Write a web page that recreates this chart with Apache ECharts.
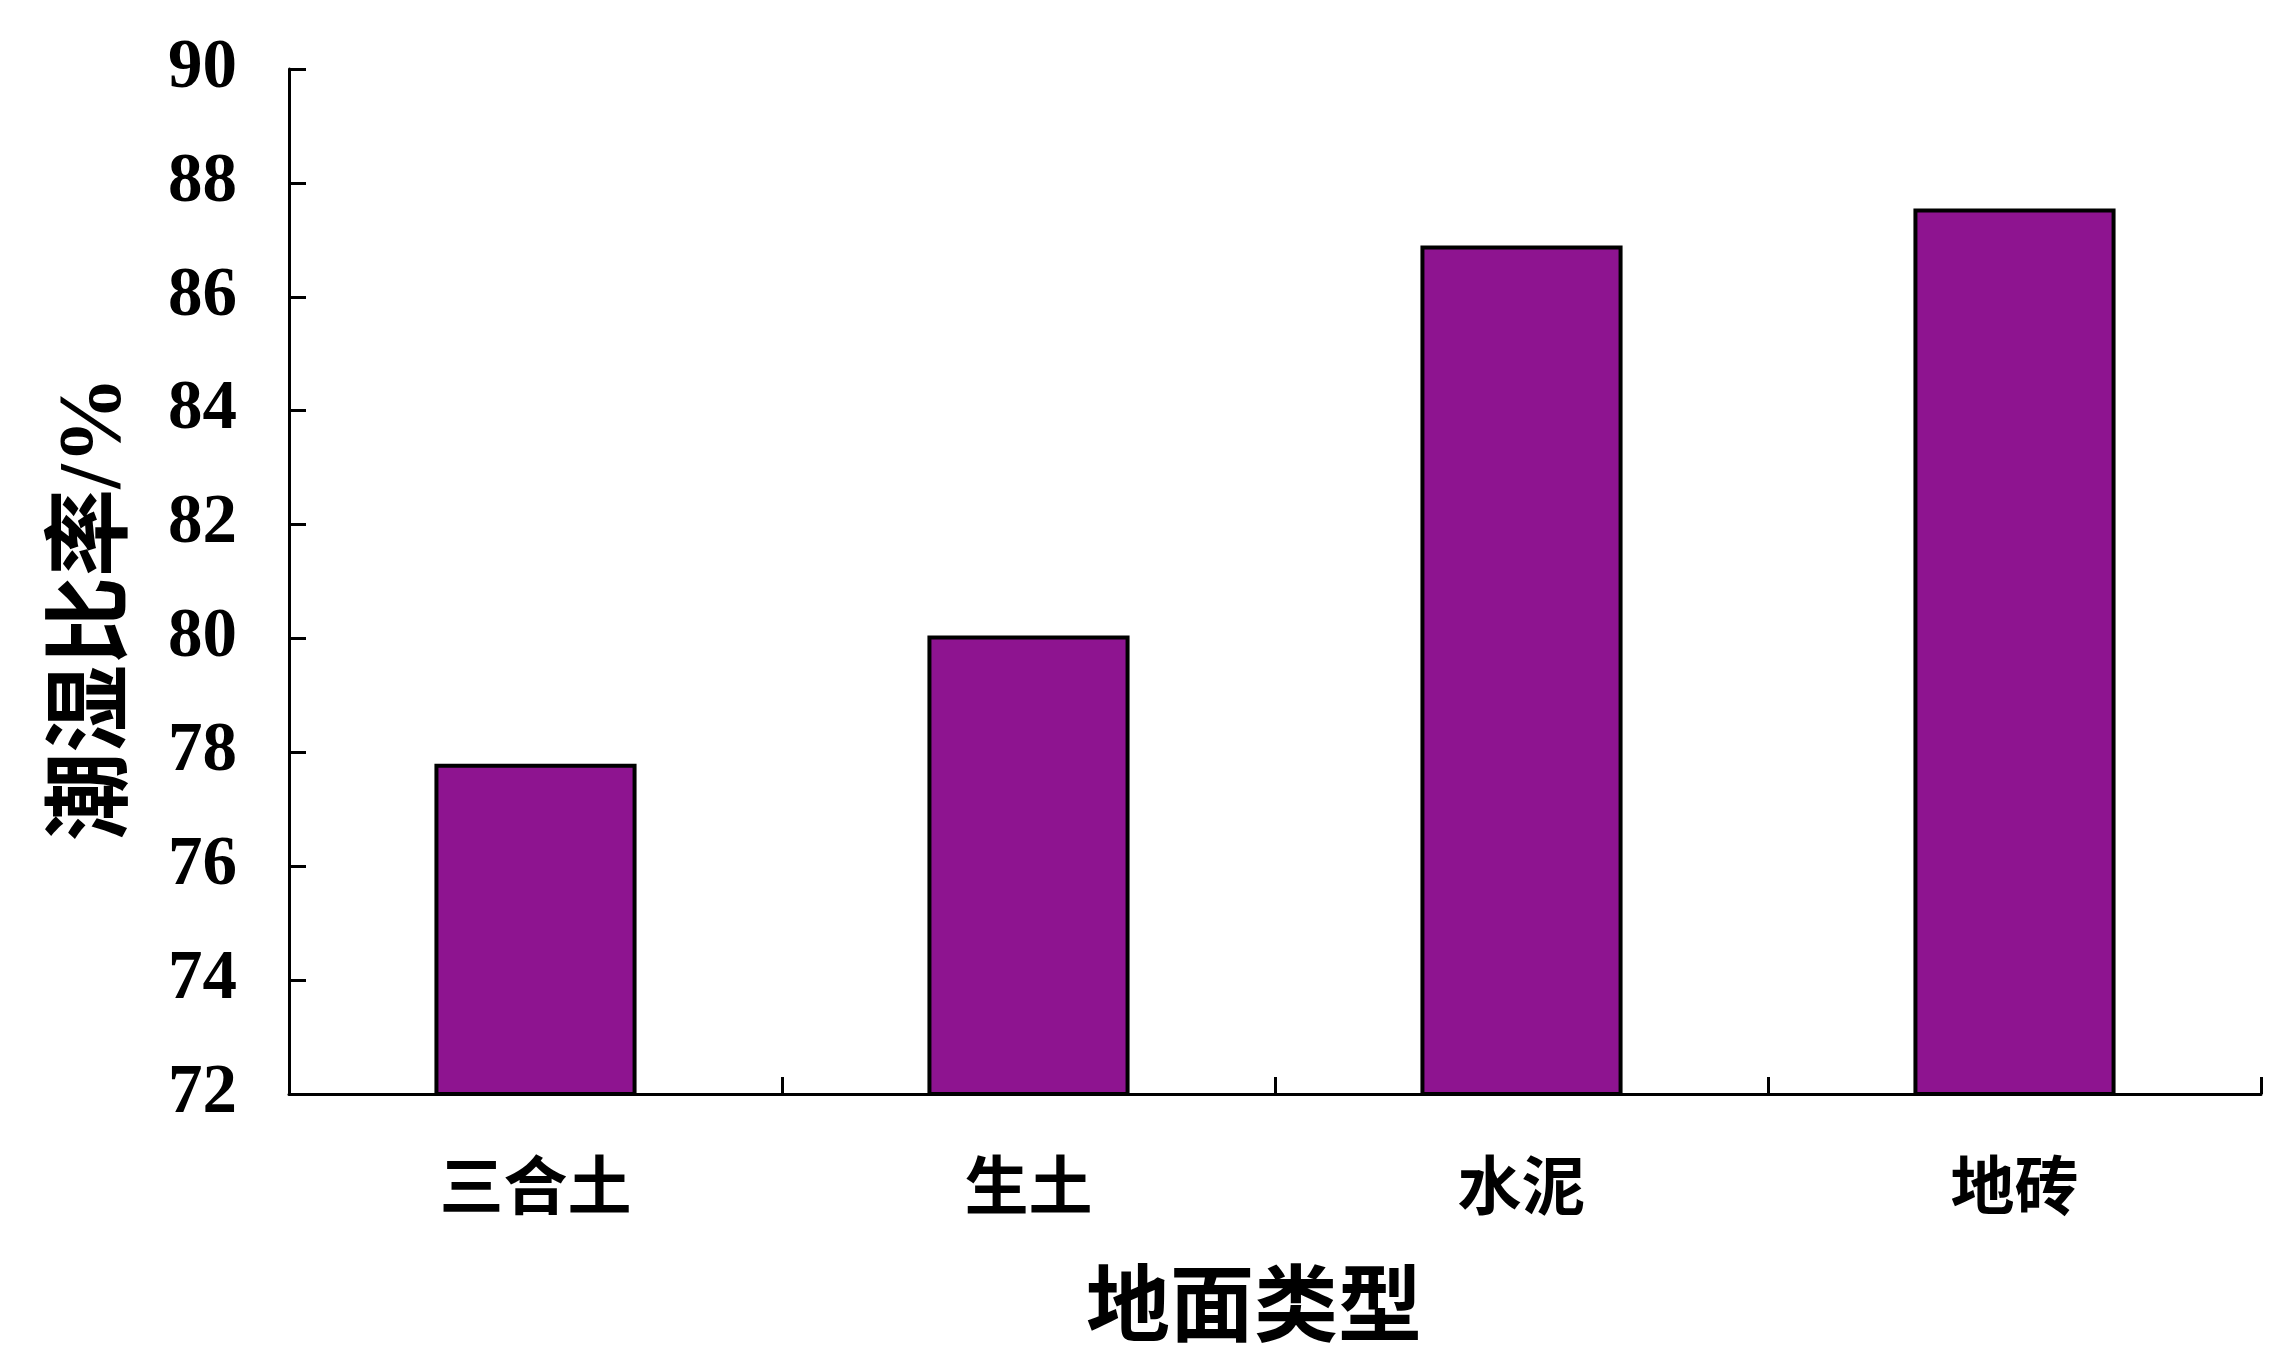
<!DOCTYPE html>
<html>
<head>
<meta charset="utf-8">
<script src="https://cdn.jsdelivr.net/npm/echarts@6/dist/echarts.min.js"></script>
<style>html,body{margin:0;padding:0;background:#fff}#c{width:2292px;height:1360px}</style>
</head>
<body>
<div id="c"></div>
<script>
const categories = ['三合土', '生土', '水泥', '地砖'];
const values = [77.8, 80.05, 86.9, 87.55];
const yMin = 72, yMax = 90, yStep = 2;
const xName = '地面类型';
const yName = '潮湿比率/%';

const chart = echarts.init(document.getElementById('c'));
const fam = '"Liberation Serif", "Noto Sans CJK SC", serif';
chart.setOption({
  animation: false,
  backgroundColor: '#fff',
  grid: { left: 289, right: 31, top: 69, bottom: 266, containLabel: false },
  xAxis: {
    type: 'category',
    data: categories,
    name: xName,
    nameLocation: 'middle',
    nameGap: 177,
    nameTextStyle: { fontFamily: fam, fontWeight: 'bold', fontSize: 84, color: '#000', padding: [0, 42, 0, 0] },
    axisLine: { lineStyle: { color: '#000', width: 3 } },
    axisTick: { show: true, inside: true, length: 17, lineStyle: { color: '#000', width: 3 } },
    axisLabel: { margin: 66, fontFamily: fam, fontWeight: 'bold', fontSize: 64, color: '#000' },
    splitLine: { show: false }
  },
  yAxis: {
    type: 'value',
    min: yMin, max: yMax, interval: yStep,
    name: yName,
    nameLocation: 'middle',
    nameGap: 149,
    nameRotate: 90,
    nameTextStyle: { fontFamily: fam, fontWeight: 'bold', fontSize: 88, color: '#000', padding: [0, 54, 0, 0] },
    axisLine: { show: true, lineStyle: { color: '#000', width: 3 } },
    axisTick: { show: true, inside: true, length: 17, lineStyle: { color: '#000', width: 3 } },
    axisLabel: { margin: 52, fontFamily: fam, fontWeight: 'bold', fontSize: 69, color: '#000' },
    splitLine: { show: false }
  },
  series: [{
    type: 'bar',
    data: values,
    barWidth: '41%',
    itemStyle: { color: '#8E1490', borderColor: '#000', borderWidth: 4 }
  }]
});
</script>
</body>
</html>
